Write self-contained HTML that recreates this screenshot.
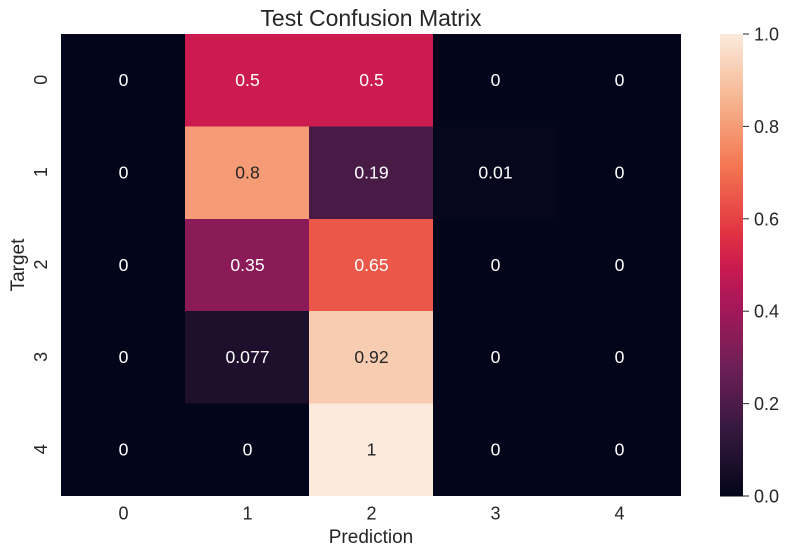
<!DOCTYPE html>
<html>
<head>
<meta charset="utf-8">
<title>Test Confusion Matrix</title>
<style>
html,body{margin:0;padding:0;background:#fff;width:789px;height:557px;overflow:hidden}
svg{display:block}
text{font-family:"Liberation Sans",Arial,sans-serif;fill:#262626}
</style>
</head>
<body>
<svg id="chart" xmlns="http://www.w3.org/2000/svg" width="789" height="557" viewBox="0 0 789 557">
<rect x="0" y="0" width="789" height="557" fill="#ffffff"/>
<text x="371" y="26" font-size="23" text-anchor="middle">Test Confusion Matrix</text>
<g id="cells" shape-rendering="crispEdges"></g>
<g id="annotations"></g>
<g id="xticks"></g>
<g id="yticks"></g>
<text x="371" y="543" font-size="19" text-anchor="middle">Prediction</text>
<text transform="translate(24,265) rotate(-90)" x="0" y="0" font-size="19" text-anchor="middle">Target</text>
<g id="colorbar" shape-rendering="crispEdges"></g>
<g id="cbarticks"></g>
</svg>
<script>
const predictionLabels = ['0', '1', '2', '3', '4'];
const targetLabels = ['0', '1', '2', '3', '4'];
const row0 = [0, 0.5, 0.5, 0, 0];
const row1 = [0, 0.8, 0.19, 0.01, 0];
const row2 = [0, 0.35, 0.65, 0, 0];
const row3 = [0, 0.077, 0.92, 0, 0];
const row4 = [0, 0, 1, 0, 0];
const colorbarTicks = [0, 0.2, 0.4, 0.6, 0.8, 1];

const matrix = [row0, row1, row2, row3, row4];
const NS = 'http://www.w3.org/2000/svg';
const plot = { left: 61, right: 681, top: 34, bottom: 496 };
const bar = { left: 720, right: 743, top: 34, bottom: 496 };

const rocketStops = [
  [0, [3, 5, 26]], [0.143, [53, 25, 62]], [0.286, [112, 31, 87]],
  [0.429, [173, 23, 89]], [0.5, [203, 27, 79]], [0.571, [225, 51, 66]],
  [0.714, [243, 118, 81]], [0.857, [246, 180, 143]], [1, [250, 235, 221]]
];
function rocket(v) {
  const t = Math.max(0, Math.min(1, v));
  for (let i = 1; i < rocketStops.length; i++) {
    if (t <= rocketStops[i][0]) {
      const a = rocketStops[i - 1], b = rocketStops[i];
      const f = (t - a[0]) / (b[0] - a[0]);
      return a[1].map((c, k) => Math.round(c + (b[1][k] - c) * f));
    }
  }
  return rocketStops[rocketStops.length - 1][1];
}
function css(c) { return 'rgb(' + c.join(',') + ')'; }
function luminance(c) {
  const l = c.map(x => { const s = x / 255; return s <= 0.03928 ? s / 12.92 : Math.pow((s + 0.055) / 1.055, 2.4); });
  return 0.2126 * l[0] + 0.7152 * l[1] + 0.0722 * l[2];
}
function xScale(i) { return plot.left + (plot.right - plot.left) * i / predictionLabels.length; }
function yScale(i) { return plot.top + (plot.bottom - plot.top) * i / targetLabels.length; }
function barY(v) { return bar.bottom - (bar.bottom - bar.top) * v; }
function make(tag, attrs, parent, content) {
  const el = document.createElementNS(NS, tag);
  for (const k in attrs) el.setAttribute(k, attrs[k]);
  if (content !== undefined) el.textContent = content;
  parent.appendChild(el);
  return el;
}

const cells = document.getElementById('cells');
const annotations = document.getElementById('annotations');
matrix.forEach((row, r) => {
  row.forEach((v, c) => {
    const color = rocket(v);
    const rect = make('rect', { x: xScale(c), y: yScale(r), width: xScale(c + 1) - xScale(c), height: yScale(r + 1) - yScale(r), fill: css(color) }, cells);
    
    
    const label = make('text', { x: (xScale(c) + xScale(c + 1)) / 2 + 0.5, y: (yScale(r) + yScale(r + 1)) / 2 + 5.8, 'font-size': 17.6, 'text-anchor': 'middle' }, annotations, String(Number(v.toPrecision(2))));
    label.style.fill = luminance(color) > 0.408 ? '#262626' : '#ffffff';
    
    
  });
});

const xticks = document.getElementById('xticks');
predictionLabels.forEach((t, i) => {
  const label = make('text', { x: (xScale(i) + xScale(i + 1)) / 2 + 0.5, y: 519.5, 'font-size': 18, 'text-anchor': 'middle' }, xticks, t);
  
  
});
const yticks = document.getElementById('yticks');
targetLabels.forEach((t, i) => {
  const cy = (yScale(i) + yScale(i + 1)) / 2 - 0.5;
  const label = make('text', { transform: 'translate(47,' + cy + ') rotate(-90)', x: 0, y: 0, 'font-size': 18, 'text-anchor': 'middle' }, yticks, t);
  
  
});

const colorbar = document.getElementById('colorbar');
const barSteps = 256;
for (let i = 0; i < barSteps; i++) {
  const y0 = barY((i + 1) / barSteps), y1 = barY(i / barSteps);
  const seg = make('rect', { x: bar.left, y: y0, width: bar.right - bar.left, height: y1 - y0 + 0.5, fill: css(rocket((i + 0.5) / barSteps)) }, colorbar);
  
  
}
const cbarticks = document.getElementById('cbarticks');
colorbarTicks.forEach(v => {
  const y = barY(v);
  const tick = make('line', { x1: bar.right, x2: bar.right + 6, y1: y, y2: y, stroke: '#262626', 'stroke-width': 1 }, cbarticks);
  
  
  const label = make('text', { x: 754, y: y + 6.5, 'font-size': 18 }, cbarticks, v.toFixed(1));
  
  
});
</script>
</body>
</html>
